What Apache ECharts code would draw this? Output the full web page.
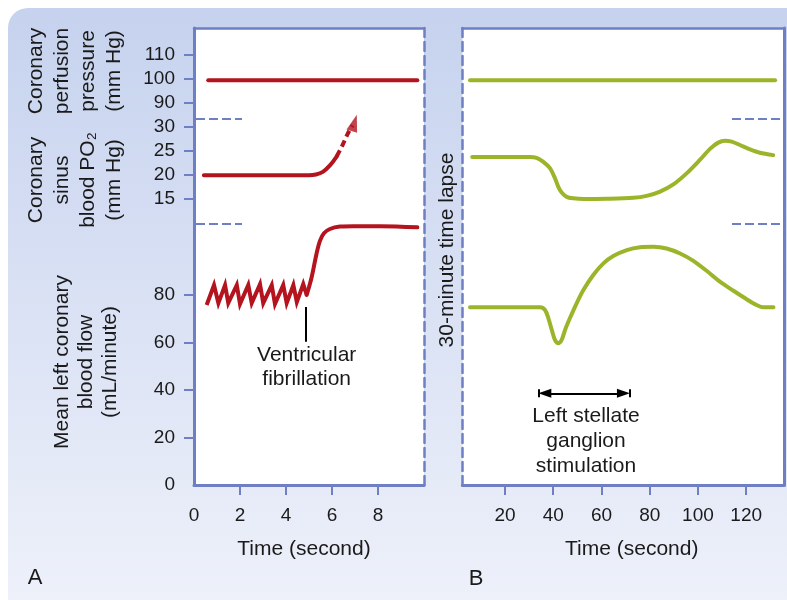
<!DOCTYPE html>
<html>
<head>
<meta charset="utf-8">
<style>
  html, body { margin: 0; padding: 0; background: #fff; }
  #chart { width: 787px; height: 600px; }
</style>
<script src="https://cdn.jsdelivr.net/npm/echarts@6/dist/echarts.min.js"></script>
</head>
<body>
<div id="chart"></div>
<script>
// tick values
const leftTimeTicks = [2, 4, 6, 8];
const leftTimeLabels = [0, 2, 4, 6, 8];
const rightTimeTicks = [20, 40, 60, 80, 100, 120];
const pressureTicks = [90, 100, 110];
const po2Ticks = [15, 20, 25, 30];
const flowTicks = [20, 40, 60, 80];
const flowLabels = [0, 20, 40, 60, 80];

// panel A: ventricular fibrillation (time in s)
const leftPressure = [[0.62, 99.3], [9.71, 99.3]];
const leftPO2 = [[0.43, 19.8], [5.0, 19.8], [5.3, 19.95], [5.6, 20.5], [5.9, 21.8], [6.2, 23.7]];
const leftPO2Trend = [[6.2, 23.7], [6.45, 26.0], [6.7, 28.6], [6.9, 30.2]];
const leftPO2Arrow = [[6.97, 30.7]];
const leftFlowFib = [
  [0.55, 75.8], [0.87, 84.2], [1.06, 76.6], [1.35, 84.2], [1.49, 76.6], [1.86, 84.2],
  [2.0, 76.2], [2.36, 84.2], [2.51, 76.6], [2.87, 84.6], [3.01, 76.6], [3.38, 84.2],
  [3.52, 76.2], [3.88, 84.2], [4.03, 76.6], [4.32, 84.2], [4.47, 77.0], [4.75, 84.6], [4.9, 80.0]
];
const leftFlowRise = [
  [4.9, 80.0], [5.12, 87.7], [5.33, 97.5], [5.48, 102.9], [5.65, 106], [5.91, 107.8],
  [6.35, 108.8], [6.93, 109], [8.1, 109], [9.71, 108.5]
];
const fibMark = [4.87, 75, 60.3];

// panel B: left stellate ganglion stimulation (time in s)
const rightPressure = [[5.5, 99.3], [132, 99.3]];
const rightPO2 = [
  [6.4, 23.6], [30.4, 23.6], [33.1, 23.4], [35.9, 22.6], [38.7, 21.25], [40.7, 19.2],
  [42.1, 17.4], [43.5, 16.2], [45.6, 15.3], [48.3, 15.0], [52.5, 14.85], [62.2, 14.9],
  [73.2, 15.1], [78.7, 15.5], [84.3, 16.4], [89.8, 17.9], [95.3, 20.2], [100.8, 23.0],
  [105.0, 25.3], [108.4, 26.6], [111.2, 27.0], [114.0, 26.8], [117.4, 26.1], [121.6, 25.2],
  [125.7, 24.5], [131.2, 24.0]
];
const rightFlow = [
  [5.5, 74.8], [34.5, 74.8], [36.6, 73.7], [38.0, 70.2], [39.4, 65.3], [40.7, 61.1],
  [42.1, 59.7], [43.5, 61.1], [44.9, 65.3], [46.9, 70.2], [49.7, 76.5], [52.5, 82.1],
  [56.6, 88.4], [60.8, 93.3], [64.9, 96.4], [70.5, 98.9], [76.0, 100.1], [81.5, 100.3],
  [87.0, 99.6], [92.6, 97.5], [98.1, 94.4], [103.6, 90.2], [109.1, 85.6], [114.7, 81.8],
  [120.2, 78.2], [124.3, 75.8], [127.1, 74.8], [131.3, 74.8]
];
const stimStart = 33.8, stimEnd = 71.8, stimLevel = 38.6;

const FONT = "'Liberation Sans', Arial, Helvetica, sans-serif";
const AXIS = '#6f7fc3';
const RED = '#b3141e';
const GREEN = '#9bb52a';
const TXT = '#1a1a1a';

const chart = echarts.init(document.getElementById('chart'), null, { renderer: 'canvas' });

const cols = [{ left: 194, width: 230 }, { left: 462.3, width: 322 }];
const rows = [{ top: 28, height: 91 }, { top: 119, height: 105 }, { top: 224, height: 261 }];
const xRange = [[0, 10], [2.3, 135.8]];
const yRange = [[83.2, 121.1], [9.65, 31.52], [0, 109.9]];

const grids = [], xAxes = [], yAxes = [];
cols.forEach((c, ci) => {
  rows.forEach((r, ri) => {
    const gi = grids.length;
    grids.push({ left: c.left, width: c.width, top: r.top, height: r.height });
    xAxes.push({ gridIndex: gi, type: 'value', min: xRange[ci][0], max: xRange[ci][1], show: false });
    yAxes.push({ gridIndex: gi, type: 'value', min: yRange[ri][0], max: yRange[ri][1], show: false });
  });
});

// panel A tick marks on the data grids
const tickLabel = { color: TXT, fontSize: 19, fontFamily: FONT, margin: 19 };
const tickStyle = { length: 10, lineStyle: { color: AXIS, width: 2 } };
[[pressureTicks, pressureTicks], [po2Ticks, po2Ticks], [flowTicks, flowLabels]].forEach((t, i) => {
  Object.assign(yAxes[i], {
    show: true,
    axisLine: { show: false },
    axisTick: Object.assign({ customValues: t[0] }, tickStyle),
    axisLabel: Object.assign({ customValues: t[1] }, tickLabel),
    splitLine: { show: false }
  });
});

// frame grids (white plot area + borders)
const solid = { color: AXIS, width: 3 };
const dashed = { color: AXIS, width: 2.5, type: [9, 5] };
cols.forEach((c, ci) => {
  const gi = grids.length;
  grids.push({ left: c.left, width: c.width, top: 28, height: 457, show: true, backgroundColor: '#fff', borderWidth: 0 });
  const ticks = ci === 0 ? leftTimeTicks : rightTimeTicks;
  const labels = ci === 0 ? leftTimeLabels : rightTimeTicks;
  xAxes.push({
    gridIndex: gi, type: 'value', min: xRange[ci][0], max: xRange[ci][1], position: 'bottom',
    axisLine: { onZero: false, lineStyle: solid },
    axisTick: Object.assign({ customValues: ticks }, tickStyle),
    axisLabel: Object.assign({ customValues: labels }, tickLabel, { margin: 21 }),
    splitLine: { show: false }
  });
  xAxes.push({
    gridIndex: gi, type: 'value', min: xRange[ci][0], max: xRange[ci][1], position: 'top',
    axisLine: { onZero: false, lineStyle: { color: AXIS, width: 2.5 } },
    axisTick: { show: false }, axisLabel: { show: false }, splitLine: { show: false }
  });
  ['left', 'right'].forEach((pos) => {
    const isSolid = (ci === 0) === (pos === 'left');
    yAxes.push({
      gridIndex: gi, type: 'value', min: 0, max: 1, position: pos,
      axisLine: { onZero: false, lineStyle: isSolid ? solid : dashed },
      axisTick: { show: false }, axisLabel: { show: false }, splitLine: { show: false }
    });
  });
});

function line(gi, data, color, extra) {
  return Object.assign({
    type: 'line', xAxisIndex: gi, yAxisIndex: gi, data: data, symbol: 'none',
    lineStyle: { color: color, width: 4, cap: 'round', join: 'round' },
    clip: false, silent: true, z: 5
  }, extra || {});
}

const blackMark = {
  silent: true, symbol: 'none', label: { show: false },
  lineStyle: { color: '#000', width: 2, type: 'solid' }
};

const series = [
  line(0, leftPressure, RED),
  line(1, leftPO2, RED, { smooth: 0.4 }),
  line(1, leftPO2Trend, RED, { smooth: 0.3, lineStyle: { color: RED, width: 4, type: [7, 4] } }),
  {
    type: 'scatter', xAxisIndex: 1, yAxisIndex: 1, data: leftPO2Arrow, symbol: 'triangle',
    symbolSize: [11, 17], symbolRotate: -17, itemStyle: { color: RED }, clip: false, silent: true, z: 6
  },
  line(2, leftFlowFib, RED, { lineStyle: { color: RED, width: 4, join: 'miter' } }),
  line(2, leftFlowRise, RED, {
    smooth: 0.35,
    markLine: Object.assign({
      data: [[{ coord: [fibMark[0], fibMark[1]] }, { coord: [fibMark[0], fibMark[2]] }]]
    }, blackMark)
  }),
  line(3, rightPressure, GREEN),
  line(4, rightPO2, GREEN, { smooth: 0.3 }),
  line(5, rightFlow, GREEN, {
    smooth: 0.3,
    markLine: Object.assign({
      data: [
        [{ coord: [stimStart + 2.7, stimLevel], symbol: 'triangle', symbolSize: [9, 13] },
         { coord: [stimEnd - 2.7, stimLevel], symbol: 'triangle', symbolSize: [9, 13] }],
        [{ coord: [stimStart, stimLevel - 1.7] }, { coord: [stimStart, stimLevel + 1.7] }],
        [{ coord: [stimEnd, stimLevel - 1.7] }, { coord: [stimEnd, stimLevel + 1.7] }]
      ]
    }, blackMark)
  })
];

function txt(x, y, text, opts) {
  return Object.assign({
    type: 'text', x: x, y: y, z: 50, silent: true,
    style: Object.assign({
      text: text, fill: TXT, fontSize: 21, fontFamily: FONT,
      textAlign: 'center', textVerticalAlign: 'middle'
    }, (opts && opts.style) || {})
  }, opts && opts.rotation ? { rotation: opts.rotation } : {});
}
function divider(x1, x2, y) {
  return {
    type: 'line', z: 40, silent: true,
    shape: { x1: x1, y1: y, x2: x2, y2: y },
    style: { stroke: AXIS, lineWidth: 2, lineDash: [9, 4] }
  };
}
const V = Math.PI / 2;

const graphic = [
  {
    type: 'rect', z: -100, silent: true,
    shape: { x: 8, y: 8, width: 800, height: 600, r: [20, 0, 0, 0] },
    style: {
      fill: new echarts.graphic.LinearGradient(0, 0, 0, 1, [
        { offset: 0, color: '#c6d2ee' }, { offset: 1, color: '#eef1fa' }
      ])
    }
  },
  divider(196, 242, 119), divider(196, 242, 224),
  divider(732, 781, 119), divider(732, 781, 224),
  txt(75, 71, 'Coronary\nperfusion\npressure\n(mm Hg)', { rotation: V, style: { lineHeight: 26 } }),
  txt(75, 180, 'Coronary\nsinus\nblood PO\u2082\n(mm Hg)', { rotation: V, style: { lineHeight: 26 } }),
  txt(86, 362, 'Mean left coronary\nblood flow\n(mL/minute)', { rotation: V, style: { lineHeight: 24 } }),
  txt(447, 250, '30-minute time lapse', { rotation: V }),
  txt(306.7, 367, 'Ventricular\nfibrillation', { style: { lineHeight: 24 } }),
  txt(586, 441.7, 'Left stellate\nganglion\nstimulation', { style: { lineHeight: 25 } }),
  txt(304, 549, 'Time (second)'),
  txt(631.7, 549, 'Time (second)'),
  txt(35, 578, 'A', { style: { fontSize: 22 } }),
  txt(476, 579, 'B', { style: { fontSize: 22 } })
];

chart.setOption({
  animation: false,
  backgroundColor: '#fff',
  grid: grids,
  xAxis: xAxes,
  yAxis: yAxes,
  series: series,
  graphic: graphic
});
</script>
</body>
</html>
